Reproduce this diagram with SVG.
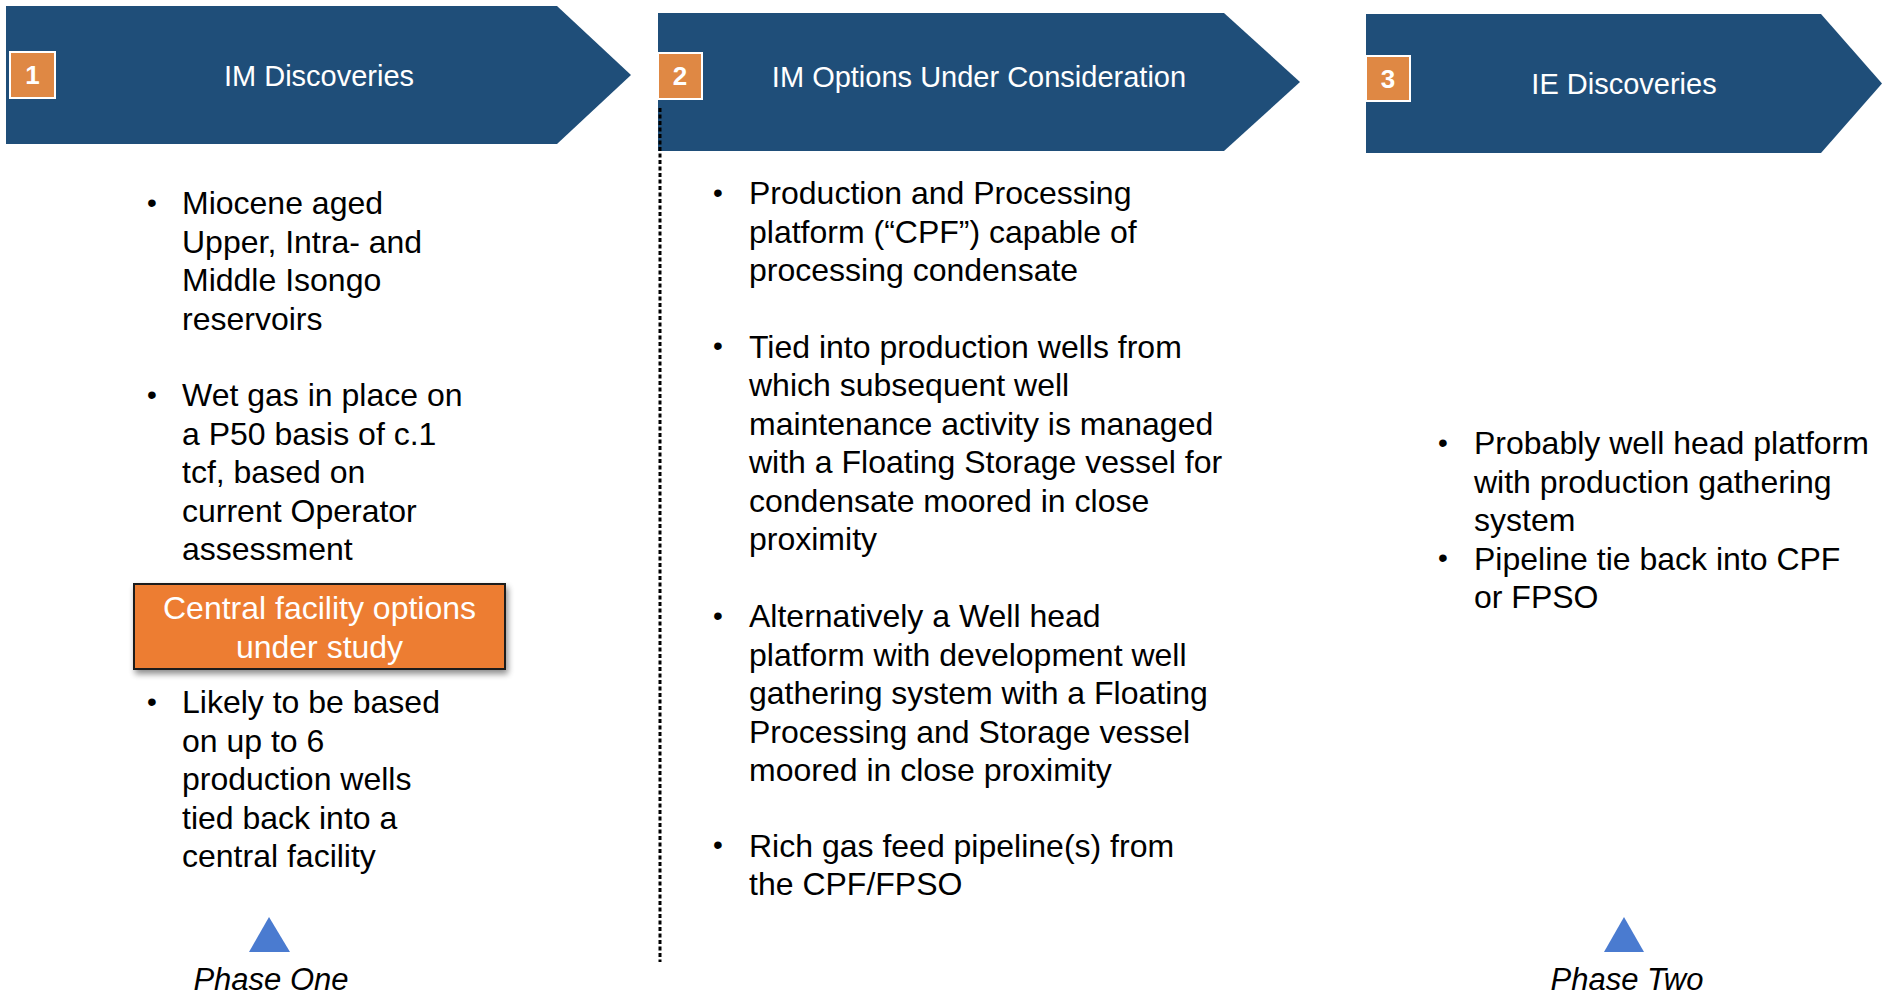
<svg xmlns="http://www.w3.org/2000/svg" width="1885" height="998" viewBox="0 0 1885 998">
  <defs>
    <style>
      .hdr { fill: #1F4E79; }
      .badge { fill: #DF8844; stroke: #FFFFFF; stroke-width: 2; }
      .num { font-family: "Liberation Sans", Arial, sans-serif; font-size: 26px; font-weight: bold; fill: #FFFFFF; text-anchor: middle; }
      .title { font-family: "Liberation Sans", Arial, sans-serif; font-size: 29px; fill: #FFFFFF; text-anchor: middle; }
      .body { font-family: "Liberation Sans", Arial, sans-serif; font-size: 32px; fill: #000000; }
      .dot { font-family: "Liberation Sans", Arial, sans-serif; font-size: 28px; fill: #000000; text-anchor: middle; }
      .boxtxt { font-family: "Liberation Sans", Arial, sans-serif; font-size: 32px; fill: #FFFFFF; text-anchor: middle; }
      .phase { font-family: "Liberation Sans", Arial, sans-serif; font-size: 31px; font-style: italic; fill: #000000; text-anchor: middle; }
      .marker { fill: #4A7BD0; }
    </style>
    <filter id="shadow" x="-10%" y="-20%" width="120%" height="150%">
      <feGaussianBlur in="SourceAlpha" stdDeviation="3"/>
      <feOffset dx="2" dy="4" result="b"/>
      <feComponentTransfer><feFuncA type="linear" slope="0.45"/></feComponentTransfer>
      <feMerge><feMergeNode/><feMergeNode in="SourceGraphic"/></feMerge>
    </filter>
  </defs>

  <rect width="1885" height="998" fill="#FFFFFF"/>

  <!-- Stage 1 header -->
  <g id="stage1">
    <polygon class="hdr" points="6,6 557,6 631,75 557,144 6,144"/>
    <rect class="badge" x="10" y="52" width="45" height="46"/>
    <text class="num" x="32.5" y="84">1</text>
    <text class="title" x="319" y="86">IM Discoveries</text>
  </g>

  <!-- Stage 2 header -->
  <g id="stage2">
    <polygon class="hdr" points="658,13 1224,13 1300,82 1224,151 658,151"/>
    <rect class="badge" x="658" y="53" width="44" height="46"/>
    <text class="num" x="680" y="85">2</text>
    <text class="title" x="979" y="87">IM Options Under Consideration</text>
  </g>

  <!-- Stage 3 header -->
  <g id="stage3">
    <polygon class="hdr" points="1366,14 1821,14 1882,83.5 1821,153 1366,153"/>
    <rect class="badge" x="1366" y="56" width="44" height="45"/>
    <text class="num" x="1388" y="88">3</text>
    <text class="title" x="1624" y="94">IE Discoveries</text>
  </g>

  <!-- Stage 1 bullets -->
  <g id="stage1-notes">
    <text class="dot" x="152" y="212">•</text>
    <text class="body" x="182" y="214">Miocene aged</text>
    <text class="body" x="182" y="252.5">Upper, Intra- and</text>
    <text class="body" x="182" y="291">Middle Isongo</text>
    <text class="body" x="182" y="329.5">reservoirs</text>

    <text class="dot" x="152" y="404">•</text>
    <text class="body" x="182" y="406">Wet gas in place on</text>
    <text class="body" x="182" y="444.5">a P50 basis of c.1</text>
    <text class="body" x="182" y="483">tcf, based on</text>
    <text class="body" x="182" y="521.5">current Operator</text>
    <text class="body" x="182" y="560">assessment</text>

    <text class="dot" x="152" y="711">•</text>
    <text class="body" x="182" y="713">Likely to be based</text>
    <text class="body" x="182" y="751.5">on up to 6</text>
    <text class="body" x="182" y="790">production wells</text>
    <text class="body" x="182" y="828.5">tied back into a</text>
    <text class="body" x="182" y="867">central facility</text>
  </g>

  <!-- Central facility box -->
  <g id="central-facility">
    <rect x="134" y="584" width="371" height="85" fill="#ED7D31" stroke="#1A1A1A" stroke-width="2" filter="url(#shadow)"/>
    <text class="boxtxt" x="319.5" y="619">Central facility options</text>
    <text class="boxtxt" x="319.5" y="657.5">under study</text>
  </g>

  <!-- Stage 2 bullets -->
  <g id="stage2-notes">
    <text class="dot" x="718" y="202">•</text>
    <text class="body" x="749" y="204">Production and Processing</text>
    <text class="body" x="749" y="242.5">platform (“CPF”) capable of</text>
    <text class="body" x="749" y="281">processing condensate</text>

    <text class="dot" x="718" y="355">•</text>
    <text class="body" x="749" y="357.5">Tied into production wells from</text>
    <text class="body" x="749" y="396">which subsequent well</text>
    <text class="body" x="749" y="434.5">maintenance activity is managed</text>
    <text class="body" x="749" y="473">with a Floating Storage vessel for</text>
    <text class="body" x="749" y="511.5">condensate moored in close</text>
    <text class="body" x="749" y="550">proximity</text>

    <text class="dot" x="718" y="625">•</text>
    <text class="body" x="749" y="627">Alternatively a Well head</text>
    <text class="body" x="749" y="665.5">platform with development well</text>
    <text class="body" x="749" y="704">gathering system with a Floating</text>
    <text class="body" x="749" y="742.5">Processing and Storage vessel</text>
    <text class="body" x="749" y="781">moored in close proximity</text>

    <text class="dot" x="718" y="854">•</text>
    <text class="body" x="749" y="856.5">Rich gas feed pipeline(s) from</text>
    <text class="body" x="749" y="895">the CPF/FPSO</text>
  </g>

  <!-- Stage 3 bullets -->
  <g id="stage3-notes">
    <text class="dot" x="1443" y="452">•</text>
    <text class="body" x="1474" y="454">Probably well head platform</text>
    <text class="body" x="1474" y="492.5">with production gathering</text>
    <text class="body" x="1474" y="531">system</text>
    <text class="dot" x="1443" y="567">•</text>
    <text class="body" x="1474" y="569.5">Pipeline tie back into CPF</text>
    <text class="body" x="1474" y="608">or FPSO</text>
  </g>

  <!-- Phase divider -->
  <g id="connectors">
    <line x1="660" y1="108" x2="660" y2="962" stroke="#000000" stroke-width="3" stroke-dasharray="4 2.5"/>
  </g>

  <!-- Phase markers -->
  <g id="phase-one">
    <polygon class="marker" points="249,952 269,917 290,952"/>
    <text class="phase" x="271" y="990">Phase One</text>
  </g>
  <g id="phase-two">
    <polygon class="marker" points="1604,952 1624,917 1644,952"/>
    <text class="phase" x="1627" y="990">Phase Two</text>
  </g>
</svg>
